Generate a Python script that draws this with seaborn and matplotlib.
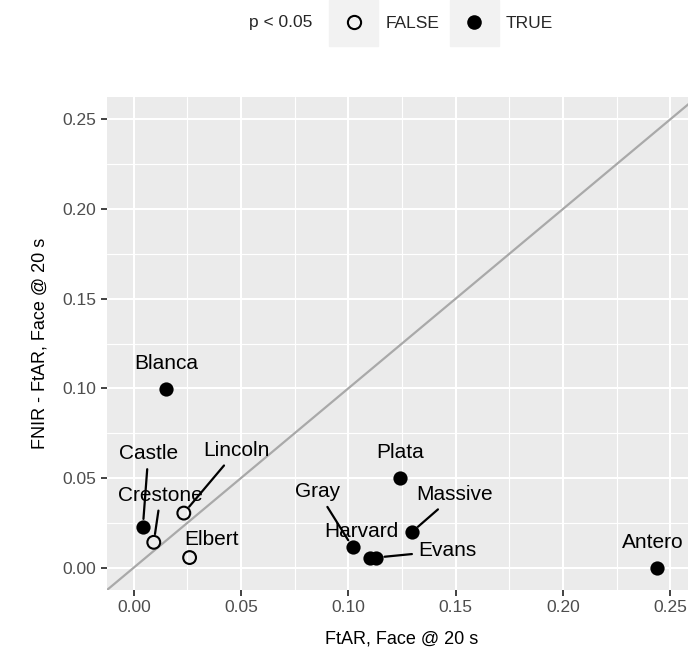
import matplotlib
matplotlib.use("Agg")
import matplotlib.pyplot as plt
from matplotlib.patches import Rectangle
from matplotlib.lines import Line2D
import pandas as pd
import seaborn as sns

# peaks and their scores
peaks = ["Blanca", "Castle", "Crestone", "Lincoln", "Elbert", "Gray",
         "Harvard", "Evans", "Plata", "Massive", "Antero"]
ftar = [0.0149, 0.0042, 0.0093, 0.0233, 0.0260, 0.1020,
        0.1100, 0.1130, 0.1240, 0.1295, 0.2440]
fnir_minus_ftar = [0.0997, 0.0225, 0.0141, 0.0304, 0.0056, 0.0113,
                   0.0056, 0.0056, 0.0497, 0.0197, 0.0000]
significant = [True, True, False, False, False, True,
               True, True, True, True, True]

# label placement (offset in points from the point), and whether a segment is drawn
label_offsets = {
    "Blanca": (0, 18), "Castle": (4, 53), "Crestone": (5, 34),
    "Lincoln": (38, 45), "Elbert": (16, 13), "Gray": (-25, 40),
    "Harvard": (-6, 19), "Evans": (51, 5), "Plata": (0, 19),
    "Massive": (31, 27), "Antero": (-3, 18),
}
with_segment = {"Castle", "Crestone", "Lincoln", "Gray", "Evans", "Massive"}

df = pd.DataFrame({"peak": peaks, "x": ftar, "y": fnir_minus_ftar, "sig": significant})

sns.set_theme(style="darkgrid", rc={
    "axes.facecolor": "#EBEBEB",
    "grid.color": "white",
    "axes.edgecolor": "#EBEBEB",
})
plt.rcParams["font.family"] = ["Liberation Sans", "DejaVu Sans"]

fig = plt.figure(figsize=(6.88, 6.5), dpi=100)
ax = fig.add_axes([107 / 688, 1 - 590 / 650, 590 / 688, 493 / 650])
for s in ax.spines.values():
    s.set_visible(False)

lims = (-0.0125, 0.2625)
ax.set_xlim(lims)
ax.set_ylim(lims)
ax.plot(lims, lims, color="#A9A9A9", lw=1.6, zorder=2)

ticks = [0.0, 0.05, 0.10, 0.15, 0.20, 0.25]
ax.set_xticks(ticks)
ax.set_yticks(ticks)
ax.set_xticklabels([f"{t:.2f}" for t in ticks])
ax.set_yticklabels([f"{t:.2f}" for t in ticks])
ax.set_xticks([0.025, 0.075, 0.125, 0.175, 0.225], minor=True)
ax.set_yticks([0.025, 0.075, 0.125, 0.175, 0.225], minor=True)
ax.grid(which="major", color="white", lw=1.5)
ax.grid(which="minor", color="white", lw=0.8)
ax.tick_params(which="major", length=4.5, width=1.3, color="#333333",
               labelcolor="#4D4D4D", labelsize=12.5, pad=3, bottom=True, left=True)
ax.tick_params(which="minor", length=0)
ax.set_axisbelow(True)

sns.scatterplot(data=df[df.sig], x="x", y="y", ax=ax, color="black",
                s=105, edgecolor="black", linewidth=0, zorder=4)
sns.scatterplot(data=df[~df.sig], x="x", y="y", ax=ax, facecolor="none",
                s=85, edgecolor="black", linewidth=1.5, zorder=4)

for _, r in df.iterrows():
    kw = {}
    if r.peak in with_segment:
        kw["arrowprops"] = dict(arrowstyle="-", color="black", lw=1.6,
                                shrinkA=2, shrinkB=6)
    ax.annotate(r.peak, xy=(r.x, r.y), xytext=label_offsets[r.peak],
                textcoords="offset points", ha="center", va="center",
                fontsize=15, color="black", zorder=5, **kw)

ax.set_xlabel("FtAR, Face @ 20 s", fontsize=13, color="black", labelpad=8)
ax.set_ylabel("FNIR - FtAR, Face @ 20 s", fontsize=13, color="black", labelpad=10)
ax.xaxis.set_label_coords((402 - 107) / 590, -(630 - 590) / 493)

# legend on top, drawn by hand in figure pixels
W, H = 688, 650
fig.text(281 / W, 1 - 27.5 / H, "p < 0.05", ha="center", va="baseline", fontsize=12.5)
for x0, filled, txt, tx in [(329, False, "FALSE", 386), (450, True, "TRUE", 506)]:
    fig.patches.append(Rectangle((x0 / W, 1 - 46 / H), 49 / W, 46 / H,
                                 transform=fig.transFigure, color="#F2F2F2", zorder=1))
    fig.lines.append(Line2D([(x0 + 24.5) / W], [1 - 22 / H], transform=fig.transFigure,
                            marker="o", ms=10.5 if filled else 9.5,
                            mfc="black" if filled else "none", mec="black",
                            mew=0 if filled else 1.5, zorder=2))
    fig.text(tx / W, 1 - 27.5 / H, txt, ha="left", va="baseline", fontsize=12.5)

fig.savefig("out.png", dpi=100)
